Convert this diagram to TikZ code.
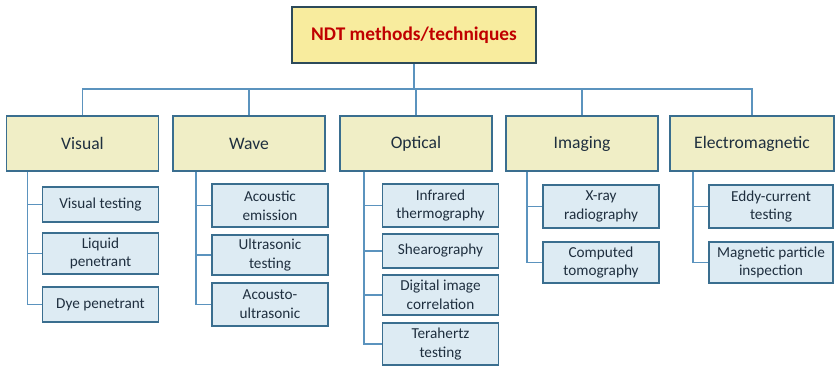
\documentclass[tikz,border=0pt]{standalone}
\usepackage{fontspec}
\setmainfont{Carlito}
\usepackage{tikz}

\definecolor{topfill}{HTML}{F8EC9E}
\definecolor{catfill}{HTML}{F0EEC6}
\definecolor{subfill}{HTML}{DDEBF3}
\definecolor{boxline}{HTML}{3A6E8F}
\definecolor{topline}{HTML}{2C4A5A}
\definecolor{linkline}{HTML}{5B93BE}
\definecolor{titlered}{HTML}{C00000}
\definecolor{textdark}{HTML}{1F2F3F}

\tikzset{
  topbox/.style={draw=topline, fill=topfill, line width=1.5pt, minimum width=244*0.03cm,
    minimum height=56*0.03cm, font=\fontsize{16.5}{19}\selectfont\bfseries, text=titlered},
  catbox/.style={draw=boxline, fill=catfill, line width=1.5pt, minimum width=152*0.03cm,
    minimum height=55*0.03cm, font=\fontsize{15}{18}\selectfont, text=textdark},
  subbox/.style={draw=boxline, fill=subfill, line width=1.5pt, minimum width=116*0.03cm,
    align=center, font=\fontsize{13}{16}\selectfont, text=textdark, inner sep=1pt},
  link/.style={draw=linkline, line width=1.2pt}
}

\begin{document}
\begin{tikzpicture}[x=0.03cm,y=-0.03cm]
      \useasboundingbox (0,0) rectangle (835,366);
      % top
      \node[topbox] (ndt) at (414,35) {NDT methods/techniques};
      % categories
      \node[catbox] (vis) at (82.5,143.5) {Visual};
      \node[catbox] (wav) at (249,143.5) {Wave};
      \node[catbox] (opt) at (416,143.5) {Optical};
      \node[catbox] (img) at (582,143.5) {Imaging};
      \node[catbox, minimum width=164*0.03cm] (ele) at (752,143.5) {Electromagnetic};
      % bus
      \coordinate (bus) at (414,89);
      \draw[link] (ndt.south) -- (bus);
      \draw[link] (vis.north) |- (bus) -| (ele.north);
      \draw[link] (wav.north) -- (wav.north |- bus);
      \draw[link] (opt.north) -- (opt.north |- bus);
      \draw[link] (img.north) -- (img.north |- bus);
      % visual
      \node[subbox, minimum height=35*0.03cm] (vt) at (100.5,204.5) {Visual testing};
      \node[subbox, minimum height=41*0.03cm] (lp) at (100.5,253.5) {Liquid\\penetrant};
      \node[subbox, minimum height=35*0.03cm] (dp) at (100.5,304.5) {Dye penetrant};
      % wave
      \node[subbox, minimum height=43*0.03cm] (ae) at (270,205.5) {Acoustic\\emission};
      \node[subbox, minimum height=40*0.03cm] (ut) at (270,255) {Ultrasonic\\testing};
      \node[subbox, minimum height=43*0.03cm] (au) at (270,304.5) {Acousto-\\ultrasonic};
      % optical
      \node[subbox, minimum height=43*0.03cm] (ir) at (440.5,205.5) {Infrared\\thermography};
      \node[subbox, minimum height=34*0.03cm] (sh) at (440.5,251) {Shearography};
      \node[subbox, minimum height=40*0.03cm] (dic) at (440.5,295) {Digital image\\correlation};
      \node[subbox, minimum height=42*0.03cm] (tt) at (440.5,344) {Terahertz\\testing};
      % imaging
      \node[subbox, minimum height=43*0.03cm] (xr) at (601,206.5) {X-ray\\radiography};
      \node[subbox, minimum height=41*0.03cm] (ct) at (601,262.5) {Computed\\tomography};
      % electromagnetic
      \node[subbox, minimum height=43*0.03cm, minimum width=124*0.03cm] (ec) at (771,206.5) {Eddy-current\\testing};
      \node[subbox, minimum height=41*0.03cm, minimum width=124*0.03cm] (mpi) at (771,262.5) {Magnetic particle\\inspection};
      % trunks
      \foreach \cat/\off/\subs in {vis/22/{vt,lp,dp}, wav/24/{ae,ut,au}, opt/25/{ir,sh,dic,tt},
          img/22/{xr,ct}, ele/24/{ec,mpi}}
        \foreach \s in \subs
          \draw[link] (\cat.south west) ++(\off,0) |- (\s.west);
\end{tikzpicture}
\end{document}
